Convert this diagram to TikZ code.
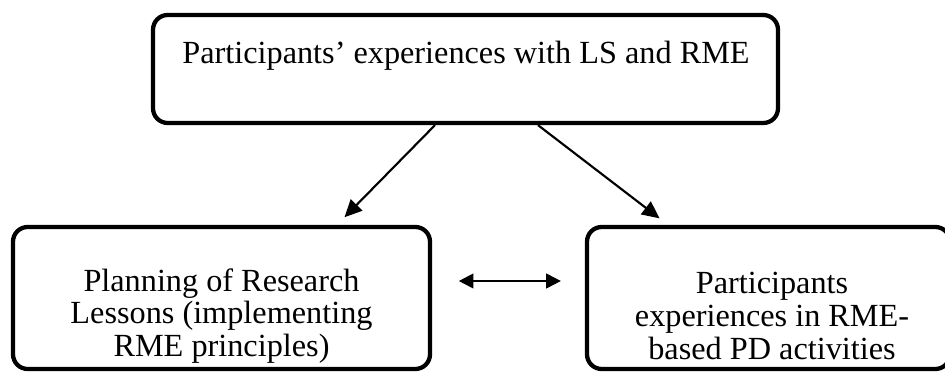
\documentclass[tikz,border=0pt]{standalone}
\usepackage{fontspec}
\setmainfont{Liberation Serif}
\usetikzlibrary{arrows.meta,calc}
\definecolor{FlowInk}{HTML}{000000}
\definecolor{FlowPaper}{HTML}{FFFFFF}

\begin{document}
\begin{tikzpicture}[x=0.75pt,y=0.75pt,
  flowbox/.style={draw=FlowInk,line width=3.2pt,rounded corners=11pt,inner sep=0pt},
  flowtext/.style={align=center,inner sep=0pt,font=\fontsize{24.2}{24.5}\selectfont},
  flowarrow/.style={draw=FlowInk,line width=1.6pt,-{Triangle[length=13pt,width=12pt]}},
  flowpair/.style={draw=FlowInk,line width=1.6pt,{Triangle[length=11pt,width=11pt]}-{Triangle[length=11pt,width=11pt]}}]
\path[use as bounding box] (0,0) rectangle (945,374);
\fill[FlowPaper] (0,0) rectangle (945,374);
% boxes
\node[flowbox,minimum width=468.75pt,minimum height=81pt] (exp) at (465.5,305) {};
\node[flowbox,minimum width=312.75pt,minimum height=106.5pt] (plan) at (221.5,76) {};
\node[flowbox,minimum width=272.25pt,minimum height=106.5pt] (pd) at (768.5,76) {};
% texts
\node[flowtext] (expText) at (466,318) {Participants’ experiences with LS and RME};
\node[flowtext] (planText) at (221.5,58) {Planning of Research\\Lessons (implementing\\RME principles)};
\node[flowtext] (pdText) at (772,58) {Participants\\experiences in RME-\\based PD activities};
% arrows
\draw[flowarrow,shorten >=8pt] ($(exp.south)+(-30.5,0)$) -- ($(plan.north)+(115.5,0)$);
\draw[flowarrow,shorten >=8pt] ($(exp.south)+(72.5,0)$) -- ($(pd.north)+(-100.5,0)$);
\draw[flowpair,shorten <=20pt,shorten >=18pt] ($(plan.east)+(0,17)$) -- ($(pd.west)+(0,17)$);
\end{tikzpicture}
\end{document}
